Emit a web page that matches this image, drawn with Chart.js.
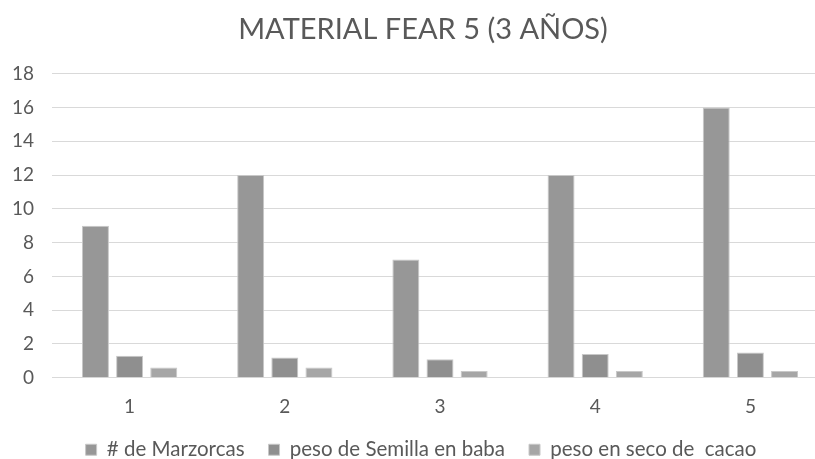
<!DOCTYPE html>
<html>
<head>
<meta charset="utf-8">
<script src="https://cdn.jsdelivr.net/npm/chart.js@4"></script>
<style>
  html, body { margin: 0; padding: 0; background: #fff; overflow: hidden; }
  /* the plot in the original runs past the right edge, so the canvas is a bit wider than the window */
  #wrap { width: 840px; height: 459px; position: relative; }
</style>
</head>
<body>
<div id="wrap"><canvas id="chart"></canvas></div>
<script>
/* Material FEAR 5 – bar chart */

const categories = ['1', '2', '3', '4', '5'];
const mazorcas   = [9, 12, 7, 12, 16];
const pesoBaba   = [1.3, 1.2, 1.1, 1.4, 1.5];
const pesoSeco   = [0.6, 0.6, 0.4, 0.4, 0.4];
const seriesNames = ['# de Marzorcas', 'peso de Semilla en baba', 'peso en seco de  cacao'];

const textColor = '#595959';
const gridColor = '#d9d9d9';
const fontFam = 'Lato, "Open Sans", sans-serif';
const LEGEND_SHRINK = 21;

function _ds(label, data, color) {
  return {
    label, data,
    backgroundColor: color,
    borderColor: '#c8c8c8',
    borderWidth: 1,
    categoryPercentage: 0.66,
    barPercentage: 0.79,
  };
}

function _shift(box, fnName, dx, dy) {
  const orig = box[fnName].bind(box);
  box[fnName] = function (...a) {
    const ctx = this.ctx;
    ctx.save(); ctx.translate(dx, dy); orig(...a); ctx.restore();
  };
}

/* legend sits closer to the axis than Chart.js allows with this item spacing;
   title/legend are nudged right because the plot is cut off on the right */
const boxTweaks = {
  id: 'boxTweaks',
  afterInit(chart) {
    const lg = chart.legend, tt = chart.titleBlock;
    if (lg && !lg._tw) {
      const fit = lg.fit.bind(lg);
      lg.fit = function () { fit(); this.height -= LEGEND_SHRINK; };
      _shift(lg, '_draw', 7, -21);
      lg._tw = true;
    }
    if (tt && !tt._tw) { _shift(tt, 'draw', 9, 0); tt._tw = true; }
  },
};

new Chart(document.getElementById('chart'), {
  type: 'bar',
  data: {
    labels: categories,
    datasets: [
      _ds(seriesNames[0], mazorcas, '#979797'),
      _ds(seriesNames[1], pesoBaba, '#8f8f8f'),
      _ds(seriesNames[2], pesoSeco, '#a6a6a6'),
    ],
  },
  plugins: [boxTweaks],
  options: {
    responsive: true,
    maintainAspectRatio: false,
    animation: false,
    layout: { padding: { left: 0, right: 12, top: 8, bottom: -11 } },
    plugins: {
      title: {
        display: true,
        text: 'MATERIAL FEAR 5 (3 AÑOS)',
        color: textColor,
        font: { family: fontFam, size: 29, weight: 'normal' },
        padding: { top: 4, bottom: 27 },
      },
      legend: {
        position: 'bottom',
        labels: {
          color: textColor,
          font: { family: fontFam, size: 20.5 },
          boxWidth: 11, boxHeight: 11,
          padding: 24,
        },
      },
      tooltip: { enabled: false },
    },
    scales: {
      x: {
        grid: { display: false, drawTicks: false },
        border: { color: gridColor },
        ticks: { color: textColor, font: { family: fontFam, size: 19 }, padding: 18 },
      },
      y: {
        min: 0, max: 18,
        afterFit: s => { s.width = 52; },
        ticks: { stepSize: 2, color: textColor, font: { family: fontFam, size: 19 }, padding: 18 },
        grid: { color: gridColor, drawTicks: false },
        border: { display: false },
      },
    },
  },
});
</script>
</body>
</html>
